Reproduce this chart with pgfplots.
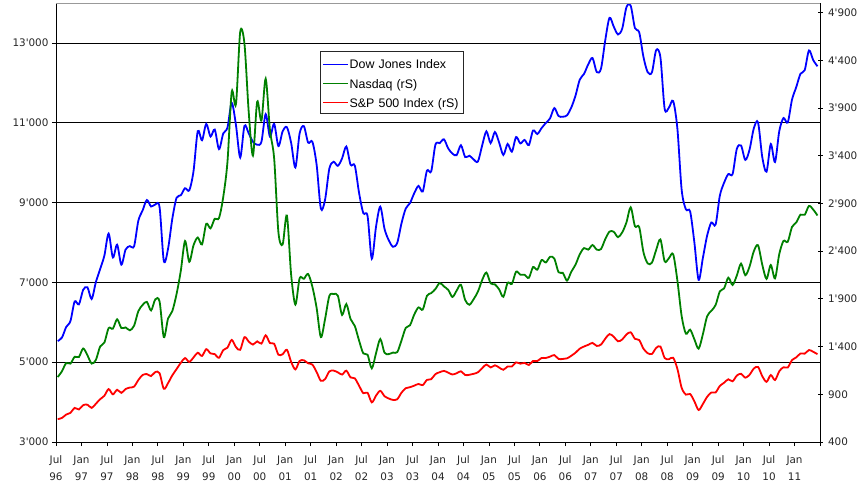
\documentclass[border=0pt]{standalone}
\usepackage{fontspec}
\usepackage{pgfplots}
\usepackage{pgfplotstable}
\pgfplotsset{compat=1.18}
\newfontfamily\tickfont{DejaVu Sans}
\newfontfamily\legfont{Liberation Sans}
\definecolor{djblue}{RGB}{0,0,255}
\definecolor{nqgreen}{RGB}{0,128,0}
\definecolor{spxred}{RGB}{255,0,0}

% month index: Jul 1996 = 0, monthly closes
\pgfplotstableread{
m v
0 5528.91
1 5616.21
2 5882.17
3 6029.38
4 6521.70
5 6448.27
6 6813.09
7 6877.74
8 6583.48
9 7008.99
10 7331.04
11 7672.79
12 8222.61
13 7622.42
14 7945.26
15 7442.08
16 7823.13
17 7908.25
18 7906.50
19 8545.72
20 8799.81
21 9063.37
22 8899.95
23 8952.02
24 8883.29
25 7539.07
26 7842.62
27 8592.10
28 9116.55
29 9181.43
30 9358.83
31 9306.58
32 9786.16
33 10789.04
34 10559.74
35 10970.80
36 10655.15
37 10829.28
38 10336.95
39 10729.86
40 10877.81
41 11497.12
42 10940.53
43 10128.31
44 10921.92
45 10733.91
46 10522.33
47 10447.89
48 10521.98
49 11215.10
50 10650.92
51 10971.14
52 10414.49
53 10786.85
54 10887.36
55 10495.28
56 9878.78
57 10734.97
58 10911.94
59 10502.40
60 10522.81
61 9949.75
62 8847.56
63 9075.14
64 9851.56
65 10021.50
66 9920.00
67 10106.13
68 10403.94
69 9946.22
70 9925.25
71 9243.26
72 8736.59
73 8663.50
74 7591.93
75 8397.03
76 8896.09
77 8341.63
78 8053.81
79 7891.08
80 7992.13
81 8480.09
82 8850.26
83 8985.44
84 9233.80
85 9415.82
86 9275.06
87 9801.12
88 9782.46
89 10453.92
90 10488.07
91 10583.92
92 10357.70
93 10225.57
94 10188.45
95 10435.48
96 10139.71
97 10173.92
98 10080.27
99 10027.47
100 10428.02
101 10783.01
102 10489.94
103 10766.23
104 10503.76
105 10192.51
106 10467.48
107 10274.97
108 10640.91
109 10481.60
110 10568.70
111 10440.07
112 10805.87
113 10717.50
114 10864.86
115 10993.41
116 11109.32
117 11367.14
118 11168.31
119 11150.22
120 11185.68
121 11381.15
122 11679.07
123 12080.73
124 12221.93
125 12463.15
126 12621.69
127 12268.63
128 12354.35
129 13062.91
130 13627.64
131 13408.62
132 13211.99
133 13357.74
134 13895.63
135 13930.01
136 13371.72
137 13264.82
138 12650.36
139 12266.39
140 12262.89
141 12820.13
142 12638.32
143 11350.01
144 11378.02
145 11543.55
146 10850.66
147 9325.01
148 8829.04
149 8776.39
150 8000.86
151 7062.93
152 7608.92
153 8168.12
154 8500.33
155 8447.00
156 9171.61
157 9496.28
158 9712.28
159 9712.73
160 10344.84
161 10428.05
162 10067.33
163 10325.26
164 10856.63
165 11008.61
166 10136.63
167 9774.02
168 10465.94
169 10014.72
170 10788.05
171 11118.49
172 11006.02
173 11577.51
174 11891.93
175 12226.34
176 12319.73
177 12810.54
178 12569.79
179 12414.34
}\dowtable

\pgfplotstableread{
m v
0 1080.59
1 1141.50
2 1226.92
3 1221.51
4 1292.61
5 1291.03
6 1379.85
7 1309.00
8 1221.70
9 1260.76
10 1400.32
11 1442.07
12 1593.81
13 1587.32
14 1685.69
15 1593.61
16 1600.55
17 1570.35
18 1619.36
19 1770.51
20 1835.68
21 1868.41
22 1778.87
23 1894.74
24 1872.39
25 1499.25
26 1693.84
27 1771.39
28 1949.54
29 2192.69
30 2505.89
31 2288.03
32 2461.40
33 2542.85
34 2470.52
35 2686.12
36 2638.49
37 2739.35
38 2746.16
39 2966.43
40 3336.16
41 4069.31
42 3940.35
43 4696.69
44 4572.83
45 3860.66
46 3400.91
47 3966.11
48 3766.99
49 4206.35
50 3672.82
51 3369.63
52 2597.93
53 2470.52
54 2772.73
55 2151.83
56 1840.26
57 2116.24
58 2110.49
59 2160.54
60 2027.13
61 1805.43
62 1498.80
63 1690.20
64 1930.58
65 1950.40
66 1934.03
67 1731.49
68 1845.35
69 1688.23
70 1615.73
71 1463.21
72 1328.26
73 1314.85
74 1172.06
75 1329.75
76 1478.78
77 1335.51
78 1320.91
79 1337.52
80 1341.17
81 1464.31
82 1595.91
83 1622.80
84 1735.02
85 1810.45
86 1786.94
87 1932.21
88 1960.26
89 2003.37
90 2066.15
91 2029.82
92 1994.22
93 1920.15
94 1986.74
95 2047.79
96 1887.36
97 1838.10
98 1896.84
99 1974.99
100 2096.81
101 2175.44
102 2062.41
103 2051.72
104 1999.23
105 1921.65
106 2068.22
107 2056.96
108 2184.83
109 2152.09
110 2151.69
111 2120.30
112 2232.82
113 2205.32
114 2305.82
115 2281.39
116 2339.79
117 2322.57
118 2178.88
119 2172.09
120 2091.47
121 2183.75
122 2258.43
123 2366.71
124 2431.77
125 2415.29
126 2463.93
127 2416.15
128 2421.64
129 2525.09
130 2604.52
131 2603.23
132 2546.27
133 2596.36
134 2701.50
135 2859.12
136 2660.96
137 2652.28
138 2389.86
139 2271.48
140 2279.10
141 2412.80
142 2522.66
143 2292.98
144 2325.55
145 2367.52
146 2091.88
147 1720.95
148 1535.57
149 1577.03
150 1476.42
151 1377.84
152 1528.59
153 1717.30
154 1774.33
155 1835.04
156 1978.50
157 2009.06
158 2122.42
159 2045.11
160 2144.60
161 2269.15
162 2147.35
163 2238.26
164 2397.96
165 2461.19
166 2257.04
167 2109.24
168 2254.70
169 2114.03
170 2368.62
171 2507.41
172 2498.23
173 2652.87
174 2700.08
175 2782.27
176 2781.07
177 2873.54
178 2835.30
179 2773.52
}\nasdaqtable

\pgfplotstableread{
m v
0 639.95
1 651.99
2 687.33
3 705.27
4 757.02
5 740.74
6 786.16
7 790.82
8 757.12
9 801.34
10 848.28
11 885.14
12 954.29
13 899.47
14 947.28
15 914.62
16 955.40
17 970.43
18 980.28
19 1049.34
20 1101.75
21 1111.75
22 1090.82
23 1133.84
24 1120.67
25 957.28
26 1017.01
27 1098.67
28 1163.63
29 1229.23
30 1279.64
31 1238.33
32 1286.37
33 1335.18
34 1301.84
35 1372.71
36 1328.72
37 1320.41
38 1282.71
39 1362.93
40 1388.91
41 1469.25
42 1394.46
43 1366.42
44 1498.58
45 1452.43
46 1420.60
47 1454.60
48 1430.83
49 1517.68
50 1436.51
51 1429.40
52 1314.95
53 1320.28
54 1366.01
55 1239.94
56 1160.33
57 1249.46
58 1255.82
59 1224.42
60 1211.23
61 1133.58
62 1040.94
63 1059.78
64 1139.45
65 1148.08
66 1130.20
67 1106.73
68 1147.39
69 1076.92
70 1067.14
71 989.82
72 911.62
73 916.07
74 815.28
75 885.76
76 936.31
77 879.82
78 855.70
79 841.15
80 848.18
81 916.92
82 963.59
83 974.50
84 990.31
85 1008.01
86 995.97
87 1050.71
88 1058.20
89 1111.92
90 1131.13
91 1144.94
92 1126.21
93 1107.30
94 1120.68
95 1140.84
96 1101.72
97 1104.24
98 1114.58
99 1130.20
100 1173.82
101 1211.92
102 1181.27
103 1203.60
104 1180.59
105 1156.85
106 1191.50
107 1191.33
108 1234.18
109 1220.33
110 1228.81
111 1207.01
112 1249.48
113 1248.29
114 1280.08
115 1280.66
116 1294.83
117 1310.61
118 1270.09
119 1270.20
120 1276.66
121 1303.82
122 1335.85
123 1377.94
124 1400.63
125 1418.30
126 1438.24
127 1406.82
128 1420.86
129 1482.37
130 1530.62
131 1503.35
132 1455.27
133 1473.99
134 1526.75
135 1549.38
136 1481.14
137 1468.36
138 1378.55
139 1330.63
140 1322.70
141 1385.59
142 1400.38
143 1280.00
144 1267.38
145 1282.83
146 1166.36
147 968.75
148 896.24
149 903.25
150 825.88
151 735.09
152 797.87
153 872.81
154 919.14
155 919.32
156 987.48
157 1020.62
158 1057.08
159 1036.19
160 1095.63
161 1115.10
162 1073.87
163 1104.49
164 1169.43
165 1186.69
166 1089.41
167 1030.71
168 1101.60
169 1049.33
170 1141.20
171 1183.26
172 1180.55
173 1257.64
174 1286.12
175 1327.22
176 1325.83
177 1363.61
178 1345.20
179 1320.64
}\sptable

\newcommand{\legline}[1]{\textcolor{#1}{\rule[4bp]{25bp}{1bp}}\hspace{1.3bp}}

\begin{document}
\begin{tikzpicture}
\path[use as bounding box] (-56bp,-43bp) rectangle (805bp,442bp);
\begin{axis}[
  at={(0,0)}, anchor=south west, scale only axis,
  width=764bp, height=439bp,
  xmin=-0.4, xmax=179.6, ymin=3000, ymax=14000,
  axis x line*=bottom, axis y line*=left,
  axis line style={-, black, line width=0.8bp},
  tick align=outside, major tick length=4bp,
  tick style={black, line width=0.8bp},
  xtick={-0.4,5.6,11.6,17.6,23.6,29.6,35.6,41.6,47.6,53.6,59.6,65.6,71.6,77.6,83.6,89.6,95.6,101.6,107.6,113.6,119.6,125.6,131.6,137.6,143.6,149.6,155.6,161.6,167.6,173.6,179.6},
  xticklabels={{Jul\\96},{Jan\\97},{Jul\\97},{Jan\\98},{Jul\\98},{Jan\\99},{Jul\\99},{Jan\\00},{Jul\\00},{Jan\\01},{Jul\\01},{Jan\\02},{Jul\\02},{Jan\\03},{Jul\\03},{Jan\\04},{Jul\\04},{Jan\\05},{Jul\\05},{Jan\\06},{Jul\\06},{Jan\\07},{Jul\\07},{Jan\\08},{Jul\\08},{Jan\\09},{Jul\\09},{Jan\\10},{Jul\\10},{Jan\\11},{}},
  ytick={3000,5000,7000,9000,11000,13000},
  ymajorgrids, major grid style={black, line width=0.8bp},
  scaled y ticks=false,
  /pgf/number format/assume math mode=true,
  yticklabel style={/pgf/number format/.cd, fixed, precision=0, 1000 sep={'}},
  tick label style={font=\tickfont\fontsize{10.4bp}{17bp}\selectfont, text=black!85},
  xticklabel style={align=center, yshift=-6.5bp},
]
\addplot[djblue, line width=1.8bp, smooth, no markers] table[x=m, y=v] {\dowtable};
\end{axis}
\begin{axis}[
  at={(0,0)}, anchor=south west, scale only axis,
  width=764bp, height=439bp,
  xmin=-0.4, xmax=179.6, ymin=400, ymax=5000,
  axis y line*=right, axis x line*=top,
  y axis line style={-, black, line width=0.8bp},
  x axis line style={-, black!40, line width=0.8bp},
  xtick=\empty,
  ytick={400,900,1400,1900,2400,2900,3400,3900,4400,4900},
  tick align=center, major tick length=5bp,
  tick style={black, line width=0.8bp},
  scaled y ticks=false,
  /pgf/number format/assume math mode=true,
  yticklabel style={/pgf/number format/.cd, fixed, precision=0, 1000 sep={'}},
  tick label style={font=\tickfont\fontsize{10.4bp}{15bp}\selectfont, text=black!85, xshift=2bp},
]
\addplot[nqgreen, line width=1.8bp, smooth, no markers] table[x=m, y=v] {\nasdaqtable};
\addplot[spxred, line width=1.8bp, smooth, no markers] table[x=m, y=v] {\sptable};
\end{axis}
\node[draw=black!85, line width=0.8bp, fill=white, anchor=north west,
  inner xsep=3bp, inner ysep=3bp, text width=137bp, align=left,
  font=\legfont\fontsize{12.4bp}{19.4bp}\selectfont]
  at (264bp,390.7bp)
  {\rule{0pt}{14bp}\legline{djblue}Dow Jones Index\\
   \legline{nqgreen}Nasdaq (rS)\\
   \legline{spxred}S\&P 500 Index (rS)};
\end{tikzpicture}
\end{document}
